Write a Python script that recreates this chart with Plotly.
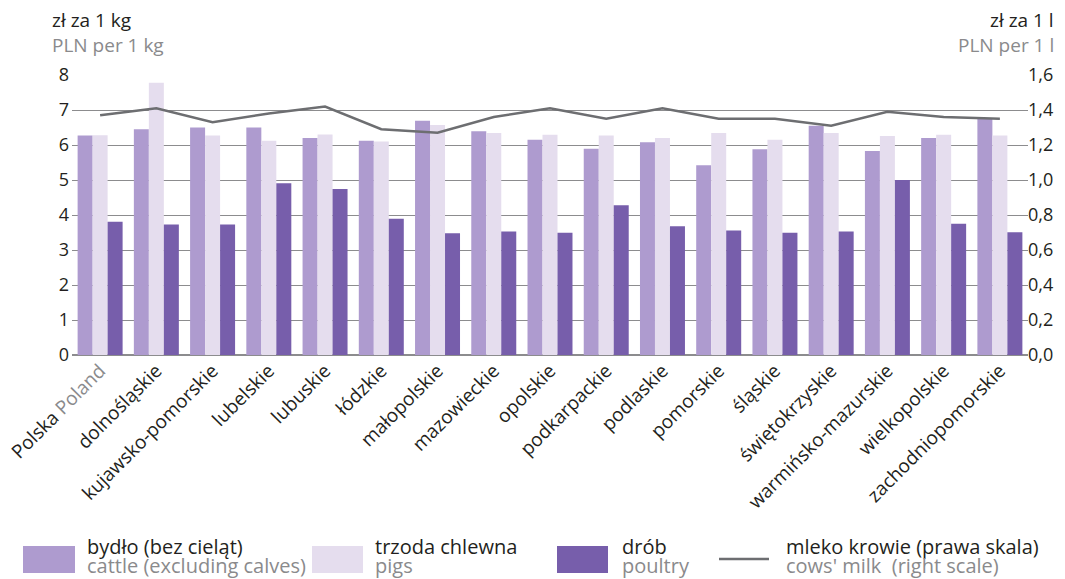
import plotly.graph_objects as go

# województwa
regiony = [
    'Polska <span style="color:#8a8a8c">Poland</span>',
    "dolnośląskie", "kujawsko-pomorskie", "lubelskie", "lubuskie", "łódzkie",
    "małopolskie", "mazowieckie", "opolskie", "podkarpackie", "podlaskie",
    "pomorskie", "śląskie", "świętokrzyskie", "warmińsko-mazurskie",
    "wielkopolskie", "zachodniopomorskie",
]

# ceny zł za 1 kg
bydlo = [6.27, 6.45, 6.50, 6.50, 6.20, 6.12, 6.69, 6.39, 6.15, 5.89, 6.08,
         5.42, 5.88, 6.55, 5.83, 6.20, 6.74]
trzoda = [6.28, 7.78, 6.27, 6.12, 6.30, 6.10, 6.57, 6.34, 6.29, 6.27, 6.20,
          6.34, 6.15, 6.34, 6.26, 6.29, 6.27]
drob = [3.81, 3.73, 3.73, 4.91, 4.74, 3.89, 3.48, 3.53, 3.49, 4.28, 3.68,
        3.56, 3.49, 3.53, 5.00, 3.75, 3.51]

# zł za 1 l
mleko = [1.37, 1.41, 1.33, 1.38, 1.42, 1.29, 1.27, 1.36, 1.41, 1.35, 1.41,
         1.35, 1.35, 1.31, 1.39, 1.36, 1.35]

KOLOR_BYDLO = "#ae9bcf"
KOLOR_TRZODA = "#e5ddee"
KOLOR_DROB = "#775eab"
KOLOR_MLEKO = "#6d6e71"
CZARNY = "#231f20"
SZARY = "#8a8a8c"
FONT = "Open Sans"

# strona html ma 8 px marginesu, więc figura jest o tyle mniejsza
OFF = 8
W, H = 1065 - OFF, 579 - OFF
# obszar wykresu (piksele okna)
L, R, T, B = 72, 1028, 75, 355

fig = go.Figure()
fig.add_trace(go.Bar(x=regiony, y=bydlo, marker_color=KOLOR_BYDLO, name="bydło"))
fig.add_trace(go.Bar(x=regiony, y=trzoda, marker_color=KOLOR_TRZODA, name="trzoda"))
fig.add_trace(go.Bar(x=regiony, y=drob, marker_color=KOLOR_DROB, name="drób"))
fig.add_trace(go.Scatter(x=regiony, y=mleko, yaxis="y2", mode="lines",
                         line=dict(color=KOLOR_MLEKO, width=2.5), name="mleko"))

fig.update_traces(selector=dict(type="bar"), marker_line_width=0)

fig.update_layout(
    width=W, height=H,
    margin=dict(l=L - OFF, r=W - (R - OFF), t=T - OFF, b=H - (B - OFF)),
    paper_bgcolor="white", plot_bgcolor="white",
    font=dict(family=FONT, color=CZARNY, size=17),
    separators=", ",
    showlegend=False,
    barmode="group", bargap=0.2, bargroupgap=0,
    xaxis=dict(tickangle=-45, tickfont=dict(size=19, color=CZARNY),
               showline=False, ticks="", showgrid=False, automargin=False),
    yaxis=dict(range=[0, 8], dtick=1, showgrid=True, gridcolor="#8c8c8e",
               gridwidth=1, zeroline=True, zerolinecolor="#8c8c8e",
               zerolinewidth=1.5, ticks="", ticklabelstandoff=2,
               automargin=False, tickfont=dict(size=18, color=CZARNY)),
    yaxis2=dict(range=[0, 1.6], dtick=0.2, tickformat=".1f", overlaying="y",
                side="right", showgrid=False, zeroline=False, ticks="",
                ticklabelstandoff=-1, automargin=False,
                tickfont=dict(size=18, color=CZARNY)),
)


def px(x):
    return (x - L) / (R - L)


def py(y):
    return (B - y) / (B - T)


# jednostki osi
for x, anchor, txt_pl, txt_en in [
    (50, "left", "zł za 1 kg", "PLN per 1 kg"),
    (1056, "right", "zł za 1 l", "PLN per 1 l"),
]:
    fig.add_annotation(x=px(x), y=py(20), xref="paper", yref="paper",
                       xanchor=anchor, yanchor="middle", showarrow=False,
                       text=txt_pl, font=dict(size=19, color=CZARNY))
    fig.add_annotation(x=px(x), y=py(45), xref="paper", yref="paper",
                       xanchor=anchor, yanchor="middle", showarrow=False,
                       text=txt_en, font=dict(size=19, color=SZARY))

# legenda (ręczna)
legenda = [
    ("rect", KOLOR_BYDLO, 23, 75, 85, "bydło (bez cieląt)", "cattle (excluding calves)"),
    ("rect", KOLOR_TRZODA, 312, 363, 373, "trzoda chlewna", "pigs"),
    ("rect", KOLOR_DROB, 557, 608, 620, "drób", "poultry"),
    ("line", KOLOR_MLEKO, 719, 769, 784, "mleko krowie (prawa skala)", "cows' milk  (right scale)"),
]
for typ, kolor, x0, x1, xt, pl, en in legenda:
    if typ == "rect":
        fig.add_shape(type="rect", xref="paper", yref="paper",
                      x0=px(x0), x1=px(x1), y0=py(546), y1=py(573),
                      fillcolor=kolor, line_width=0)
    else:
        fig.add_shape(type="line", xref="paper", yref="paper",
                      x0=px(x0), x1=px(x1), y0=py(559), y1=py(559),
                      line=dict(color=kolor, width=2.5))
    fig.add_annotation(x=px(xt), y=py(546), xref="paper", yref="paper",
                       xanchor="left", yanchor="middle", showarrow=False,
                       text=pl, font=dict(size=20, color=CZARNY))
    fig.add_annotation(x=px(xt), y=py(565), xref="paper", yref="paper",
                       xanchor="left", yanchor="middle", showarrow=False,
                       text=en, font=dict(size=20, color=SZARY))

fig.write_html("out.html")
